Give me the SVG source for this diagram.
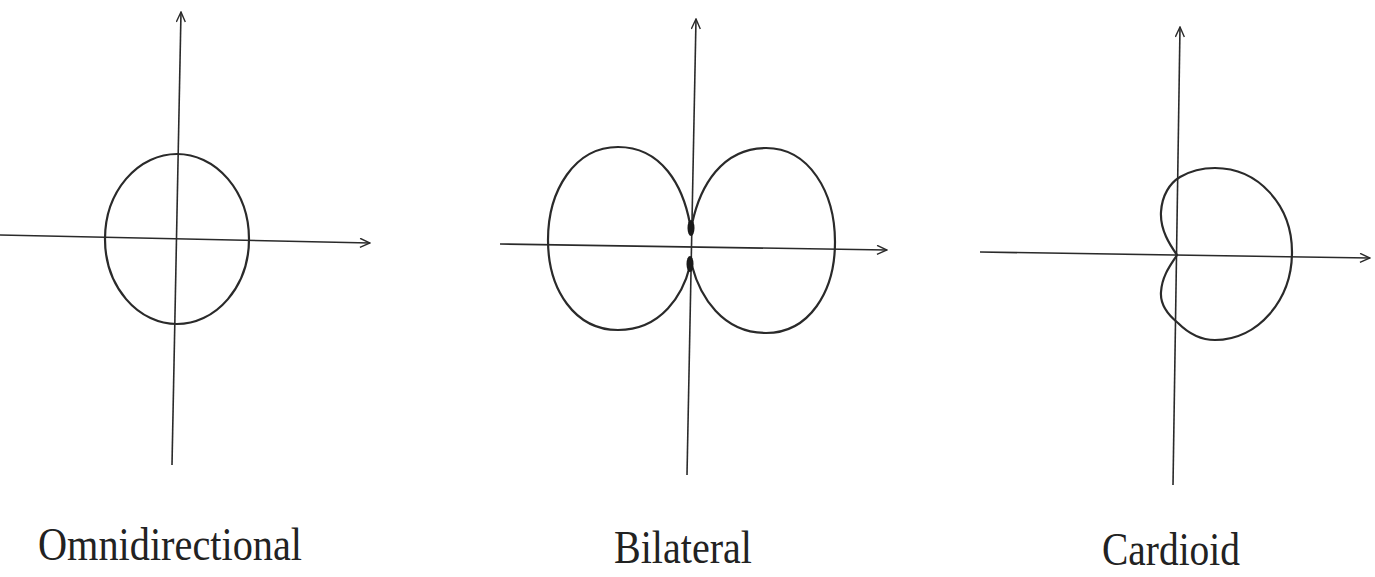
<svg xmlns="http://www.w3.org/2000/svg" width="1375" height="577" viewBox="0 0 1375 577">
<defs>
<marker id="arr" viewBox="0 0 12 10" refX="11" refY="5" markerWidth="12" markerHeight="10" markerUnits="userSpaceOnUse" orient="auto">
<path d="M1,0.5 L11,5 L1,9.5" fill="none" stroke="#2a2a2a" stroke-width="1.4"/>
</marker>
</defs>
<style>
.axis{fill:none;stroke:#2a2a2a;stroke-width:1.6;marker-end:url(#arr)}
.curve{fill:none;stroke:#2a2a2a;stroke-width:2.2;stroke-linejoin:round}
.lbl{font-family:"Liberation Serif","Times New Roman",serif;font-size:47px;fill:#222}
</style>
<rect width="1375" height="577" fill="#ffffff"/>
<g id="connectors">
<line class="axis" x1="172" y1="465" x2="181" y2="12"/>
<line class="axis" x1="0" y1="235" x2="370" y2="243"/>
<line class="axis" x1="687" y1="475" x2="696" y2="19"/>
<line class="axis" x1="500" y1="244" x2="887" y2="250"/>
<line class="axis" x1="1173" y1="485" x2="1180" y2="27"/>
<line class="axis" x1="980" y1="252" x2="1370" y2="258"/>
</g>
<g id="omnidirectional">
<ellipse class="curve" cx="177" cy="239" rx="72" ry="85"/>
<text class="lbl" x="38" y="560" textLength="264" lengthAdjust="spacingAndGlyphs">Omnidirectional</text>
</g>
<g id="bilateral">
<path class="curve" d="M690,224 C683,186 662,147 618,147 C575,147 548,190 548,240 C548,290 575,330 618,330 C662,330 683,294 690,266"/>
<path class="curve" d="M692,224 C700,186 722,148 766,148 C809,148 835,192 835,242 C835,292 809,333 766,333 C722,333 700,296 692,266"/>
<ellipse cx="691" cy="228" rx="3.5" ry="8" fill="#1a1a1a"/>
<ellipse cx="690" cy="264" rx="3.5" ry="8" fill="#1a1a1a"/>
<text class="lbl" x="614" y="563" textLength="138" lengthAdjust="spacingAndGlyphs">Bilateral</text>
</g>
<g id="cardioid">
<path class="curve" d="M1177,255 C1170,245 1160,230 1161,212 C1162,195 1170,183 1180,177 C1192,170 1202,168 1215,168 C1258,168 1292,205 1292,252 C1292,300 1258,340 1215,340 C1200,340 1188,333 1178,323 C1168,315 1160,305 1161,292 C1162,275 1172,263 1177,255 Z"/>
<text class="lbl" x="1102" y="565" textLength="138" lengthAdjust="spacingAndGlyphs">Cardioid</text>
</g>
</svg>
